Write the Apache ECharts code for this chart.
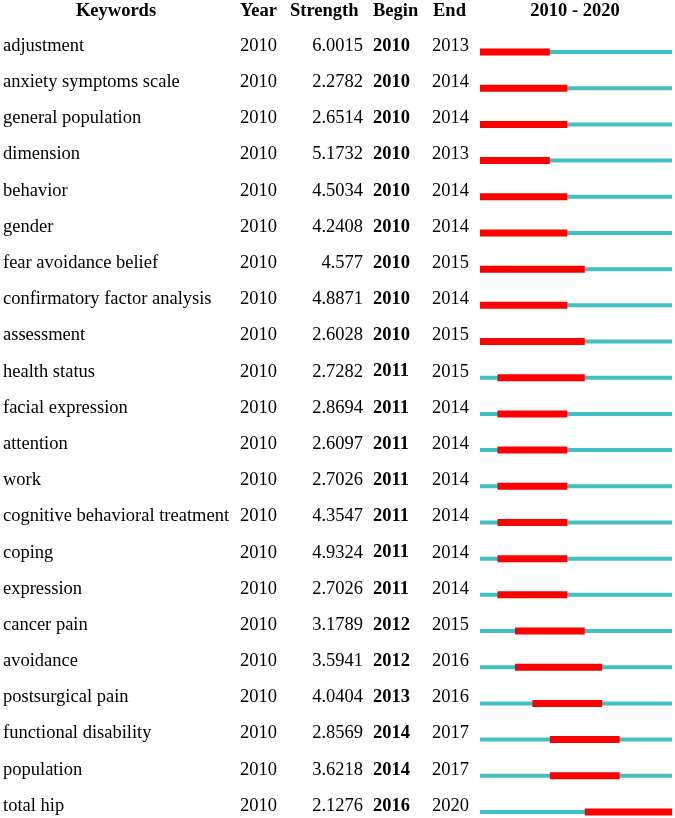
<!DOCTYPE html>
<html>
<head>
<meta charset="utf-8">
<script src="https://cdn.jsdelivr.net/npm/echarts@6/dist/echarts.min.js"></script>
<style>
  html, body { margin: 0; padding: 0; background: #fff; }
  #main { width: 675px; height: 818px; }
</style>
</head>
<body>
<div id="main"></div>
<script>
// burst keywords 2010 - 2020
var keywords = ['adjustment', 'anxiety symptoms scale', 'general population', 'dimension', 'behavior',
  'gender', 'fear avoidance belief', 'confirmatory factor analysis', 'assessment', 'health status',
  'facial expression', 'attention', 'work', 'cognitive behavioral treatment', 'coping', 'expression',
  'cancer pain', 'avoidance', 'postsurgical pain', 'functional disability', 'population', 'total hip'];
var years = [2010, 2010, 2010, 2010, 2010, 2010, 2010, 2010, 2010, 2010, 2010,
  2010, 2010, 2010, 2010, 2010, 2010, 2010, 2010, 2010, 2010, 2010];
var strengths = ['6.0015', '2.2782', '2.6514', '5.1732', '4.5034', '4.2408', '4.577', '4.8871', '2.6028', '2.7282', '2.8694',
  '2.6097', '2.7026', '4.3547', '4.9324', '2.7026', '3.1789', '3.5941', '4.0404', '2.8569', '3.6218', '2.1276'];
var begins = [2010, 2010, 2010, 2010, 2010, 2010, 2010, 2010, 2010, 2011, 2011,
  2011, 2011, 2011, 2011, 2011, 2012, 2012, 2013, 2014, 2014, 2016];
var ends = [2013, 2014, 2014, 2013, 2014, 2014, 2015, 2014, 2015, 2015, 2014,
  2014, 2014, 2014, 2014, 2014, 2015, 2016, 2016, 2017, 2017, 2020];
var firstYear = 2010, lastYear = 2020;

var font = 'Liberation Serif, Times New Roman, serif';
var size = '18.5px ';

var data = [];
for (var i = 0; i < keywords.length; i++) {
  data.push([begins[i], ends[i], i, years[i], strengths[i]]);
}

function renderRow(params, api) {
  var row = api.value(2);
  var b = api.value(0), e = api.value(1);
  var y = api.coord([firstYear, row])[1];
  var x0 = api.coord([firstYear, row])[0];
  var x1 = api.coord([lastYear + 1, row])[0];
  var rb = api.coord([b, row])[0];
  var re = api.coord([e + 1, row])[0];
  var by = y + 6;
  var txt = function (x, s, align, bold) {
    return {
      type: 'text',
      style: {
        x: x, y: y, text: s, align: align, verticalAlign: 'middle',
        font: (bold ? 'bold ' : '') + size + font, fill: '#000'
      }
    };
  };
  return {
    type: 'group',
    children: [
      txt(3, keywords[params.dataIndex], 'left'),
      txt(240, String(api.value(3)), 'left'),
      txt(363, strengths[params.dataIndex], 'right'),
      txt(373, String(b), 'left', true),
      txt(432, String(e), 'left'),
      { type: 'rect', shape: { x: x0, y: by - 2, width: x1 - x0, height: 4 }, style: { fill: '#40c0c2' } },
      { type: 'rect', shape: { x: rb, y: by - 3.5, width: re - rb, height: 7 }, style: { fill: '#ff0000' } }
    ]
  };
}

var headStyle = function (x, s, align) {
  return {
    type: 'text', x: x, y: 11,
    style: { text: s, x: 0, y: 0, align: align, verticalAlign: 'middle', font: 'bold ' + size + font, fill: '#000' }
  };
};

var option = {
  animation: false,
  grid: { left: 480, right: 3, top: 46, bottom: 12 },
  xAxis: { type: 'value', min: firstYear, max: lastYear + 1, show: false },
  yAxis: { type: 'category', data: keywords, inverse: true, boundaryGap: false, show: false },
  graphic: [
    headStyle(116, 'Keywords', 'center'),
    headStyle(240, 'Year', 'left'),
    headStyle(290, 'Strength', 'left'),
    headStyle(373, 'Begin', 'left'),
    headStyle(433, 'End', 'left'),
    headStyle(575, firstYear + ' - ' + lastYear, 'center')
  ],
  series: [{
    type: 'custom',
    renderItem: renderRow,
    data: data,
    encode: { x: [0, 1], y: 2 }
  }]
};

var myChart = echarts.init(document.getElementById('main'));
myChart.setOption(option);
</script>
</body>
</html>
